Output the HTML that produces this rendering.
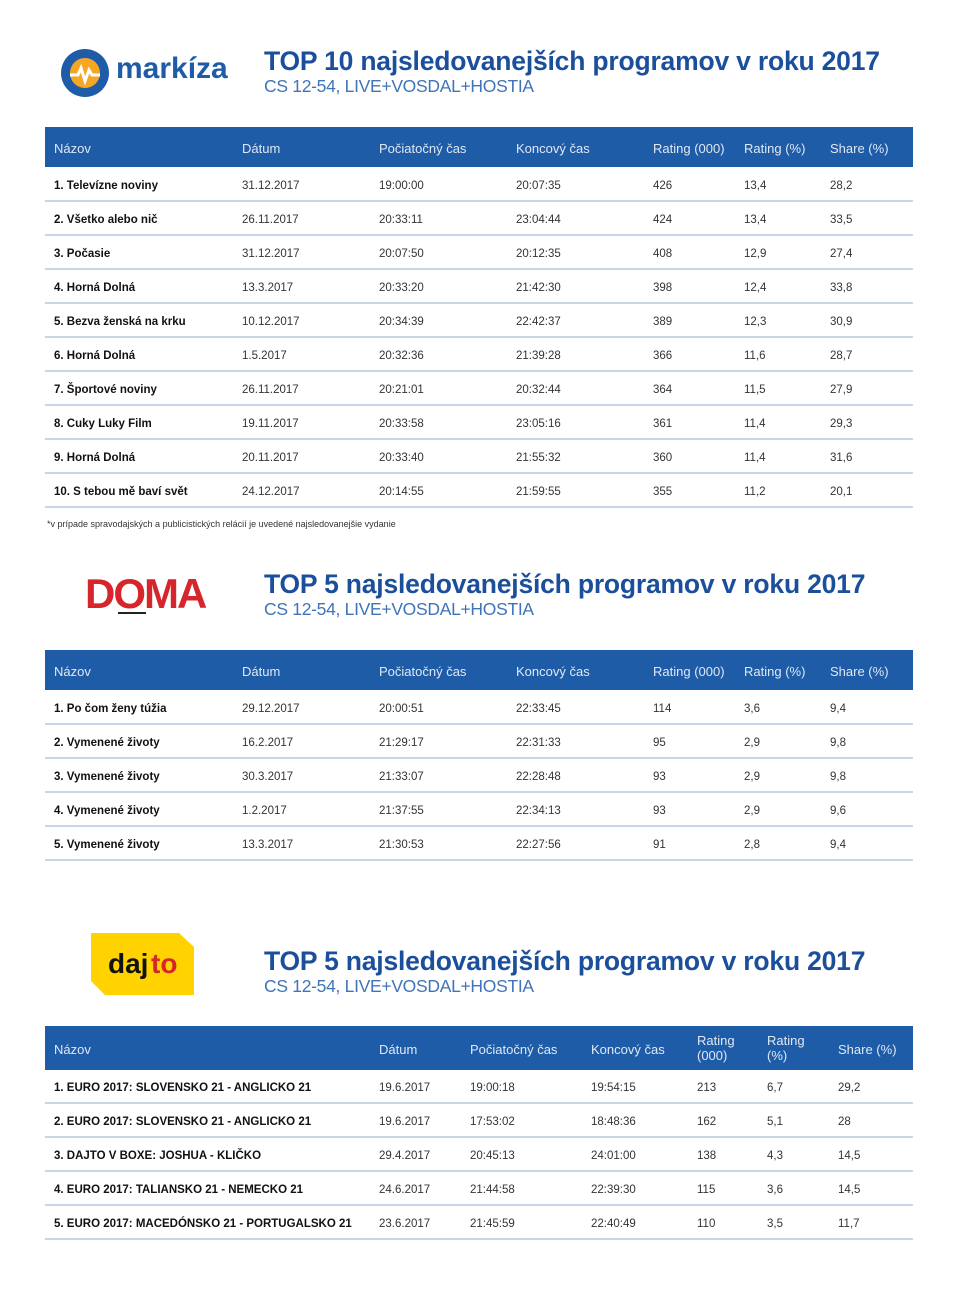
<!DOCTYPE html>
<html><head><meta charset="utf-8">
<style>
*{margin:0;padding:0;box-sizing:border-box}
body{width:959px;height:1295px;background:#fff;position:relative;font-family:"Liberation Sans",sans-serif;overflow:hidden}
.t{position:absolute;left:264px;font-size:26.5px;font-weight:bold;color:#1b4f9c;letter-spacing:-0.2px;white-space:nowrap}
.s{position:absolute;left:264px;font-size:17.5px;color:#3f74b8;white-space:nowrap;letter-spacing:-0.3px}
.hd{position:absolute;left:45px;width:868px;background:#1f5ca8;color:#dfe8f4;font-size:13px}
.hd span,.r span{position:absolute;white-space:nowrap}
.r{position:absolute;left:45px;width:868px;height:34px;border-bottom:2px solid #c9d6e6;font-size:11.5px;color:#333}
.r span{top:12px}
.r span.n{font-weight:bold;color:#111}
.fn{position:absolute;left:47px;top:519px;font-size:9px;color:#333}
</style></head><body>

<svg style="position:absolute;left:60px;top:48px" width="50" height="50" viewBox="0 0 50 50">
<circle cx="25" cy="25" r="24" fill="#1f5ca8"/><circle cx="25" cy="25" r="15" fill="#f5a623"/>
<path d="M10 27 L18 27 L21 20 L25 33 L29 22 L32 27 L40 27" stroke="#fff" stroke-width="3" fill="none"/>
</svg>
<div style="position:absolute;left:116px;top:52px;font-size:30px;font-weight:bold;color:#1f5ca8">markíza</div>
<div class="t" style="top:46px">TOP 10 najsledovanejších programov v roku 2017</div>
<div class="s" style="top:76px">CS 12-54, LIVE+VOSDAL+HOSTIA</div>

<div class="hd" style="top:127px;height:40px">
<span style="left:9px;top:14px">Názov</span><span style="left:197px;top:14px">Dátum</span><span style="left:334px;top:14px">Počiatočný čas</span><span style="left:471px;top:14px">Koncový čas</span><span style="left:608px;top:14px">Rating (000)</span><span style="left:699px;top:14px">Rating (%)</span><span style="left:785px;top:14px">Share (%)</span>
</div>
<div class="r" style="top:168px"><span class="n" style="left:9px">1. Televízne noviny</span><span style="left:197px">31.12.2017</span><span style="left:334px">19:00:00</span><span style="left:471px">20:07:35</span><span style="left:608px">426</span><span style="left:699px">13,4</span><span style="left:785px">28,2</span></div>
<div class="r" style="top:202px"><span class="n" style="left:9px">2. Všetko alebo nič</span><span style="left:197px">26.11.2017</span><span style="left:334px">20:33:11</span><span style="left:471px">23:04:44</span><span style="left:608px">424</span><span style="left:699px">13,4</span><span style="left:785px">33,5</span></div>
<div class="r" style="top:236px"><span class="n" style="left:9px">3. Počasie</span><span style="left:197px">31.12.2017</span><span style="left:334px">20:07:50</span><span style="left:471px">20:12:35</span><span style="left:608px">408</span><span style="left:699px">12,9</span><span style="left:785px">27,4</span></div>
<div class="r" style="top:270px"><span class="n" style="left:9px">4. Horná Dolná</span><span style="left:197px">13.3.2017</span><span style="left:334px">20:33:20</span><span style="left:471px">21:42:30</span><span style="left:608px">398</span><span style="left:699px">12,4</span><span style="left:785px">33,8</span></div>
<div class="r" style="top:304px"><span class="n" style="left:9px">5. Bezva ženská na krku</span><span style="left:197px">10.12.2017</span><span style="left:334px">20:34:39</span><span style="left:471px">22:42:37</span><span style="left:608px">389</span><span style="left:699px">12,3</span><span style="left:785px">30,9</span></div>
<div class="r" style="top:338px"><span class="n" style="left:9px">6. Horná Dolná</span><span style="left:197px">1.5.2017</span><span style="left:334px">20:32:36</span><span style="left:471px">21:39:28</span><span style="left:608px">366</span><span style="left:699px">11,6</span><span style="left:785px">28,7</span></div>
<div class="r" style="top:372px"><span class="n" style="left:9px">7. Športové noviny</span><span style="left:197px">26.11.2017</span><span style="left:334px">20:21:01</span><span style="left:471px">20:32:44</span><span style="left:608px">364</span><span style="left:699px">11,5</span><span style="left:785px">27,9</span></div>
<div class="r" style="top:406px"><span class="n" style="left:9px">8. Cuky Luky Film</span><span style="left:197px">19.11.2017</span><span style="left:334px">20:33:58</span><span style="left:471px">23:05:16</span><span style="left:608px">361</span><span style="left:699px">11,4</span><span style="left:785px">29,3</span></div>
<div class="r" style="top:440px"><span class="n" style="left:9px">9. Horná Dolná</span><span style="left:197px">20.11.2017</span><span style="left:334px">20:33:40</span><span style="left:471px">21:55:32</span><span style="left:608px">360</span><span style="left:699px">11,4</span><span style="left:785px">31,6</span></div>
<div class="r" style="top:474px"><span class="n" style="left:9px">10. S tebou mě baví svět</span><span style="left:197px">24.12.2017</span><span style="left:334px">20:14:55</span><span style="left:471px">21:59:55</span><span style="left:608px">355</span><span style="left:699px">11,2</span><span style="left:785px">20,1</span></div>
<div class="fn">*v prípade spravodajských a publicistických relácií je uvedené najsledovanejšie vydanie</div>

<div style="position:absolute;left:85px;top:570px;font-size:42px;font-weight:bold;color:#d7262b;letter-spacing:-2px">DOMA</div>
<div style="position:absolute;left:118px;top:612px;width:28px;height:2px;background:#222"></div>
<div class="t" style="top:569px">TOP 5 najsledovanejších programov v roku 2017</div>
<div class="s" style="top:599px">CS 12-54, LIVE+VOSDAL+HOSTIA</div>

<div class="hd" style="top:650px;height:40px">
<span style="left:9px;top:14px">Názov</span><span style="left:197px;top:14px">Dátum</span><span style="left:334px;top:14px">Počiatočný čas</span><span style="left:471px;top:14px">Koncový čas</span><span style="left:608px;top:14px">Rating (000)</span><span style="left:699px;top:14px">Rating (%)</span><span style="left:785px;top:14px">Share (%)</span>
</div>
<div class="r" style="top:691px"><span class="n" style="left:9px">1. Po čom ženy túžia</span><span style="left:197px">29.12.2017</span><span style="left:334px">20:00:51</span><span style="left:471px">22:33:45</span><span style="left:608px">114</span><span style="left:699px">3,6</span><span style="left:785px">9,4</span></div>
<div class="r" style="top:725px"><span class="n" style="left:9px">2. Vymenené životy</span><span style="left:197px">16.2.2017</span><span style="left:334px">21:29:17</span><span style="left:471px">22:31:33</span><span style="left:608px">95</span><span style="left:699px">2,9</span><span style="left:785px">9,8</span></div>
<div class="r" style="top:759px"><span class="n" style="left:9px">3. Vymenené životy</span><span style="left:197px">30.3.2017</span><span style="left:334px">21:33:07</span><span style="left:471px">22:28:48</span><span style="left:608px">93</span><span style="left:699px">2,9</span><span style="left:785px">9,8</span></div>
<div class="r" style="top:793px"><span class="n" style="left:9px">4. Vymenené životy</span><span style="left:197px">1.2.2017</span><span style="left:334px">21:37:55</span><span style="left:471px">22:34:13</span><span style="left:608px">93</span><span style="left:699px">2,9</span><span style="left:785px">9,6</span></div>
<div class="r" style="top:827px"><span class="n" style="left:9px">5. Vymenené životy</span><span style="left:197px">13.3.2017</span><span style="left:334px">21:30:53</span><span style="left:471px">22:27:56</span><span style="left:608px">91</span><span style="left:699px">2,8</span><span style="left:785px">9,4</span></div>

<svg style="position:absolute;left:91px;top:933px" width="103" height="62" viewBox="0 0 103 62">
<polygon points="0,0 88,0 103,14 103,62 14,62 0,48" fill="#ffd200"/>
<text x="17" y="40" font-family="Liberation Sans" font-weight="bold" font-size="28" fill="#111">daj</text>
<text x="60" y="40" font-family="Liberation Sans" font-weight="bold" font-size="28" fill="#d7262b">to</text>
</svg>
<div class="t" style="top:946px">TOP 5 najsledovanejších programov v roku 2017</div>
<div class="s" style="top:976px">CS 12-54, LIVE+VOSDAL+HOSTIA</div>

<div class="hd" style="top:1026px;height:44px">
<span style="left:9px;top:16px">Názov</span><span style="left:334px;top:16px">Dátum</span><span style="left:425px;top:16px">Počiatočný čas</span><span style="left:546px;top:16px">Koncový čas</span><span style="left:652px;top:7px;line-height:15px">Rating<br>(000)</span><span style="left:722px;top:7px;line-height:15px">Rating<br>(%)</span><span style="left:793px;top:16px">Share (%)</span>
</div>
<div class="r" style="top:1070px"><span class="n" style="left:9px">1. EURO 2017: SLOVENSKO 21 - ANGLICKO 21</span><span style="left:334px">19.6.2017</span><span style="left:425px">19:00:18</span><span style="left:546px">19:54:15</span><span style="left:652px">213</span><span style="left:722px">6,7</span><span style="left:793px">29,2</span></div>
<div class="r" style="top:1104px"><span class="n" style="left:9px">2. EURO 2017: SLOVENSKO 21 - ANGLICKO 21</span><span style="left:334px">19.6.2017</span><span style="left:425px">17:53:02</span><span style="left:546px">18:48:36</span><span style="left:652px">162</span><span style="left:722px">5,1</span><span style="left:793px">28</span></div>
<div class="r" style="top:1138px"><span class="n" style="left:9px">3. DAJTO V BOXE: JOSHUA - KLIČKO</span><span style="left:334px">29.4.2017</span><span style="left:425px">20:45:13</span><span style="left:546px">24:01:00</span><span style="left:652px">138</span><span style="left:722px">4,3</span><span style="left:793px">14,5</span></div>
<div class="r" style="top:1172px"><span class="n" style="left:9px">4. EURO 2017: TALIANSKO 21 - NEMECKO 21</span><span style="left:334px">24.6.2017</span><span style="left:425px">21:44:58</span><span style="left:546px">22:39:30</span><span style="left:652px">115</span><span style="left:722px">3,6</span><span style="left:793px">14,5</span></div>
<div class="r" style="top:1206px"><span class="n" style="left:9px">5. EURO 2017: MACEDÓNSKO 21 - PORTUGALSKO 21</span><span style="left:334px">23.6.2017</span><span style="left:425px">21:45:59</span><span style="left:546px">22:40:49</span><span style="left:652px">110</span><span style="left:722px">3,5</span><span style="left:793px">11,7</span></div>
</body></html>
